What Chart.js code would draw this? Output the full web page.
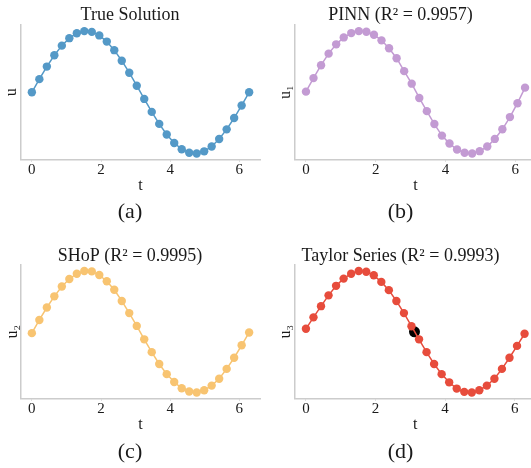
<!DOCTYPE html>
<html>
<head>
<meta charset="utf-8">
<title>Solutions</title>
<script src="https://cdn.jsdelivr.net/npm/chart.js@4.4.1/dist/chart.umd.min.js"></script>
<style>
  html, body { margin: 0; padding: 0; background: #ffffff; overflow: hidden; }
  body { width: 531px; height: 468px; position: relative; }
  canvas { position: absolute; }
</style>
</head>
<body>
<canvas id="chartA" width="265" height="234" style="left:0px;top:0px"></canvas>
<canvas id="chartB" width="276" height="234" style="left:265px;top:0px"></canvas>
<canvas id="chartC" width="265" height="234" style="left:0px;top:234px"></canvas>
<canvas id="chartD" width="276" height="234" style="left:265px;top:234px"></canvas>

<script>
// sample times (30 points on [0, 2pi])
const tValues = [0, 0.2167, 0.4333, 0.6500, 0.8666, 1.0833, 1.3000, 1.5166, 1.7333, 1.9499,
  2.1666, 2.3833, 2.5999, 2.8166, 3.0332, 3.2499, 3.4665, 3.6832, 3.8999, 4.1165,
  4.3332, 4.5498, 4.7665, 4.9832, 5.1998, 5.4165, 5.6331, 5.8498, 6.0664, 6.2832];

const uTrue = [0, 0.215, 0.420, 0.605, 0.762, 0.884, 0.964, 0.999, 0.987, 0.929,
  0.828, 0.688, 0.516, 0.320, 0.108, -0.108, -0.320, -0.516, -0.688, -0.828,
  -0.929, -0.987, -0.999, -0.964, -0.884, -0.762, -0.605, -0.420, -0.215, 0];

const uPinn = [0.011, 0.232, 0.443, 0.632, 0.784, 0.897, 0.968, 1.0, 0.989, 0.941,
  0.849, 0.719, 0.557, 0.346, 0.141, -0.092, -0.308, -0.519, -0.708, -0.838,
  -0.935, -0.989, -1.0, -0.962, -0.887, -0.762, -0.605, -0.405, -0.178, 0.076];

const uShop = [-0.022, 0.195, 0.400, 0.584, 0.746, 0.870, 0.957, 1.0, 0.995, 0.935,
  0.832, 0.692, 0.508, 0.308, 0.097, -0.124, -0.335, -0.530, -0.697, -0.827,
  -0.930, -0.984, -1.0, -0.962, -0.886, -0.773, -0.611, -0.427, -0.222, -0.011];

const uTaylor = [0.049, 0.238, 0.422, 0.600, 0.757, 0.876, 0.957, 1.0, 0.989, 0.930,
  0.822, 0.686, 0.508, 0.308, 0.092, -0.124, -0.335, -0.530, -0.697, -0.832,
  -0.935, -0.989, -1.0, -0.962, -0.886, -0.773, -0.611, -0.427, -0.232, -0.032];

// highlighted point on the Taylor panel
const markT = [3.12];
const markU = [0.0];

const xTicks = [0, 2, 4, 6];

const FONT = 'Liberation Serif';
const TEXT = '#1a1a1a';
const AXIS = '#cccccc';

function toPoints(xs, ys) {
  return xs.map((x, i) => ({ x: x, y: ys[i] }));
}

function makePanel(id, p) {
  const all = p.values;
  const lo = Math.min(...all), hi = Math.max(...all);
  const pad = (hi - lo) * 0.05;
  const tMin = tValues[0], tMax = tValues[tValues.length - 1];
  const tPad = (tMax - tMin) * 0.05;

  const datasets = [{
    data: toPoints(tValues, p.values),
    borderColor: p.color,
    backgroundColor: p.color,
    borderWidth: 1.5,
    pointRadius: 4.2,
    pointBorderWidth: 0,
    pointBackgroundColor: p.color,
    showLine: true,
    order: 0
  }];
  if (p.mark) {
    datasets.push({
      data: toPoints(markT, markU),
      backgroundColor: '#000000',
      borderColor: '#000000',
      pointRadius: 5.5,
      pointBorderWidth: 0,
      showLine: false,
      order: 1
    });
  }

  return new Chart(document.getElementById(id), {
    type: 'scatter',
    data: { datasets },
    options: {
      responsive: false,
      animation: false,
      layout: { padding: { left: 0, right: p.right, top: 0, bottom: p.bottom } },
      plugins: {
        legend: { display: false },
        tooltip: { enabled: false },
        title: {
          display: true,
          text: p.title,
          color: TEXT,
          font: { family: FONT, size: 18, weight: 'normal', lineHeight: 1.0 },
          padding: { top: p.titleTop, bottom: p.titleBottom }
        },
        subtitle: {
          display: true,
          position: 'bottom',
          text: p.caption,
          color: TEXT,
          font: { family: FONT, size: 22, weight: 'normal', lineHeight: 1.2 },
          padding: { top: p.capTop, bottom: 0 }
        }
      },
      scales: {
        x: {
          type: 'linear',
          min: tMin - tPad,
          max: tMax + tPad,
          afterFit: (s) => { s.height = 36; },
          afterBuildTicks: (s) => { s.ticks = xTicks.map(v => ({ value: v })); },
          grid: { display: true, drawOnChartArea: false, drawTicks: true, tickLength: 2, color: AXIS },
          border: { display: true, color: AXIS, width: 1.5 },
          ticks: { color: TEXT, padding: -1, font: { family: FONT, size: 15 } },
          title: {
            display: true, text: 't', color: TEXT,
            font: { family: FONT, size: 16 }, padding: 0
          }
        },
        y: {
          type: 'linear',
          min: lo - pad,
          max: hi + pad,
          afterFit: (s) => { s.width = p.yW; },
          grid: { display: false },
          border: { display: true, color: AXIS, width: 1.5 },
          ticks: { display: false },
          title: {
            display: true, text: p.yLabel, color: TEXT,
            font: { family: FONT, size: 16 }, padding: { top: p.yTitlePad, bottom: 0 }
          }
        }
      }
    }
  });
}

makePanel('chartA', { values: uTrue, color: '#5499C7', title: 'True Solution', yLabel: 'u', caption: '(a)',
  yW: 21, right: 5, bottom: 9, titleTop: 6, titleBottom: 1, capTop: 3, yTitlePad: 2 });
makePanel('chartB', { values: uPinn, color: '#C39BD3', title: 'PINN (R² = 0.9957)', yLabel: 'u₁', caption: '(b)',
  yW: 30, right: 5, bottom: 9, titleTop: 6, titleBottom: 1, capTop: 3, yTitlePad: 11 });
makePanel('chartC', { values: uShop, color: '#F8C471', title: 'SHoP (R² = 0.9995)', yLabel: 'u₂', caption: '(c)',
  yW: 21, right: 5, bottom: 3, titleTop: 13, titleBottom: 0, capTop: 4, yTitlePad: 3 });
makePanel('chartD', { values: uTaylor, color: '#E74C3C', title: 'Taylor Series (R² = 0.9993)', yLabel: 'u₃', caption: '(d)',
  yW: 30, right: 5, bottom: 3, titleTop: 13, titleBottom: 0, capTop: 4, yTitlePad: 11, mark: true });
</script>
</body>
</html>
